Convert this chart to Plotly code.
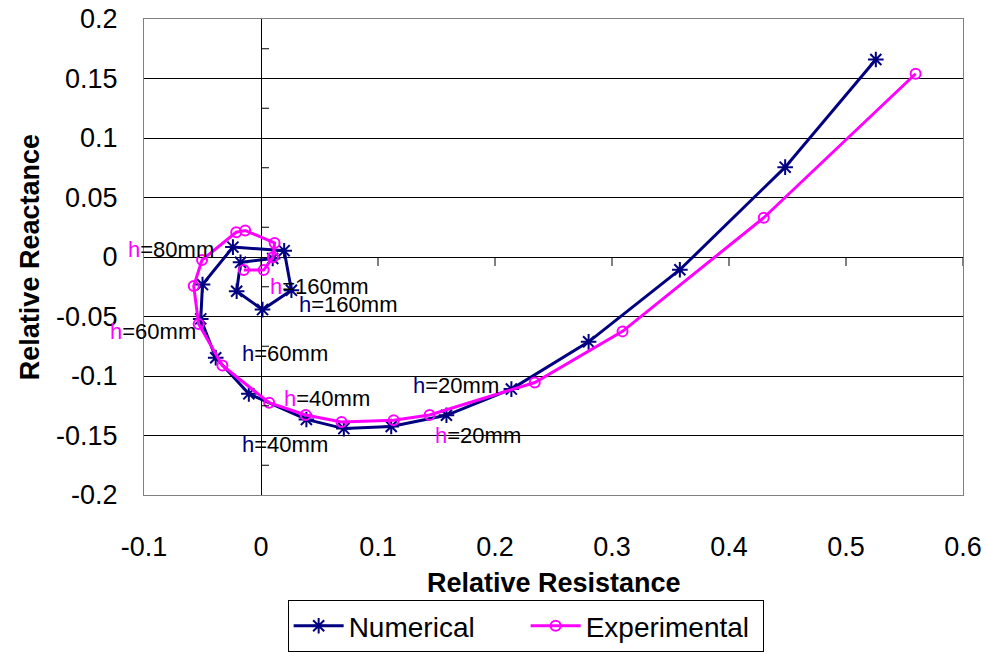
import plotly.graph_objects as go

# Impedance locus: relative resistance (R) vs relative reactance (X)
numerical_r = [0.5255, 0.448, 0.358, 0.280, 0.214, 0.1585, 0.1113, 0.0708, 0.0388, -0.0104,
               -0.0387, -0.0515, -0.0500, -0.0240, 0.0198, 0.0260, 0.0013, -0.0208, -0.0175, 0.0100]
numerical_x = [0.166, 0.0755, -0.0107, -0.0713, -0.111, -0.133, -0.1424, -0.1442, -0.1365, -0.1150,
               -0.0847, -0.0520, -0.0232, 0.0083, 0.0053, -0.0280, -0.0442, -0.0288, -0.0045, -0.0012]

experimental_r = [0.5595, 0.4297, 0.309, 0.234, 0.1441, 0.1134, 0.0688, 0.0382, 0.0070, -0.0330,
                  -0.0533, -0.0575, -0.0504, -0.0212, -0.0135, 0.0116, 0.0102, 0.0023, -0.0147]
experimental_x = [0.154, 0.033, -0.0625, -0.1055, -0.1327, -0.1371, -0.1386, -0.1328, -0.1225, -0.0912,
                  -0.0564, -0.0244, -0.0025, 0.0208, 0.0223, 0.0118, -0.0003, -0.0110, -0.0110]

x_ticks = [-0.1, 0.0, 0.1, 0.2, 0.3, 0.4, 0.5, 0.6]
x_tick_labels = ["-0.1", "0", "0.1", "0.2", "0.3", "0.4", "0.5", "0.6"]
y_ticks = [0.2, 0.15, 0.1, 0.05, 0.0, -0.05, -0.1, -0.15, -0.2]
y_tick_labels = ["0.2", "0.15", "0.1", "0.05", "0", "-0.05", "-0.1", "-0.15", "-0.2"]
# minor tick marks on the vertical axis through R = 0
y_axis_marks = [0.175, 0.125, 0.075, 0.025, -0.025, -0.075, -0.125, -0.175]

# height labels: (text, colour of the "h", R, X)
h_labels = [
    ("=80mm", "#FF00FF", -0.1146, 0.0061),
    ("=160mm", "#FF00FF", 0.0070, -0.0247),
    ("=160mm", "#000080", 0.0319, -0.0400),
    ("=60mm", "#FF00FF", -0.1300, -0.0624),
    ("=60mm", "#000080", -0.0172, -0.0814),
    ("=40mm", "#FF00FF", 0.0184, -0.1191),
    ("=40mm", "#000080", -0.0172, -0.1575),
    ("=20mm", "#000080", 0.1293, -0.1080),
    ("=20mm", "#FF00FF", 0.1476, -0.1500),
]

NAVY = "#000080"
MAGENTA = "#FF00FF"
FONT = "Arial, Liberation Sans, sans-serif"
X_MIN, X_MAX = -0.1, 0.6
PX_PER_R = 1167  # horizontal pixels per unit of R in the plot area

fig = go.Figure()
fig.add_trace(go.Scatter(
    x=numerical_r, y=numerical_x, name="Numerical", mode="lines+markers",
    line=dict(color=NAVY, width=3),
    marker=dict(symbol="asterisk-open", size=13, color=NAVY, line=dict(color=NAVY, width=2)),
    cliponaxis=False,
))
fig.add_trace(go.Scatter(
    x=experimental_r, y=experimental_x, name="Experimental", mode="lines+markers",
    line=dict(color=MAGENTA, width=3),
    marker=dict(symbol="circle-open", size=10, color=MAGENTA, line=dict(color=MAGENTA, width=2)),
    cliponaxis=False,
))

shapes = []
# tick marks hanging below the horizontal axis (X = 0)
for v in x_ticks[1:]:
    shapes.append(dict(type="line", xref="x", yref="y", ysizemode="pixel", yanchor=0,
                       x0=v, x1=v, y0=0, y1=-9, line=dict(color="black", width=1)))
# tick marks to the right of the vertical axis (R = 0)
for v in y_axis_marks:
    shapes.append(dict(type="line", xref="x", yref="y", xsizemode="pixel", xanchor=0,
                       x0=0, x1=8, y0=v, y1=v, line=dict(color="black", width=1)))

annotations = []
for text, col, ax, ay in h_labels:
    # labels left of the plotting range are pinned to its edge and shifted in pixels
    shift = 0
    if ax < X_MIN:
        shift = (ax - X_MIN) * PX_PER_R
        ax = X_MIN
    annotations.append(dict(
        x=ax, y=ay, xref="x", yref="y", xanchor="left", yanchor="middle", xshift=shift,
        text=f'<span style="color:{col}">h</span>{text}', showarrow=False,
        font=dict(family=FONT, size=22, color="black"), borderpad=0))
annotations.append(dict(
    x=0.5, y=-0.185, xref="paper", yref="paper", xanchor="center", yanchor="middle",
    text="<b>Relative Resistance</b>", showarrow=False,
    font=dict(family=FONT, size=27, color="black")))
annotations.append(dict(
    x=-0.139, y=0.5, xref="paper", yref="paper", xanchor="center", yanchor="middle",
    text="<b>Relative Reactance</b>", showarrow=False, textangle=-90,
    font=dict(family=FONT, size=27, color="black")))

fig.update_layout(
    width=985, height=652, autosize=False,
    margin=dict(l=144, r=22, t=19, b=157, autoexpand=False),
    paper_bgcolor="white", plot_bgcolor="white",
    font=dict(family=FONT, size=27, color="black"),
    shapes=shapes, annotations=annotations,
    showlegend=True,
    legend=dict(orientation="h", x=0.466, xanchor="center", yref="container", y=0.0,
                yanchor="bottom", bordercolor="black", borderwidth=1,
                font=dict(family=FONT, size=28, color="black"), itemwidth=50,
                entrywidth=172, bgcolor="white"),
    xaxis=dict(range=[X_MIN, X_MAX], tickvals=x_ticks, ticktext=x_tick_labels,
               showgrid=False, zeroline=True, zerolinecolor="black", zerolinewidth=1,
               showline=True, linecolor="#808080", linewidth=1, mirror=True,
               ticks="", ticklabelstandoff=28, tickfont=dict(size=27), automargin=False),
    yaxis=dict(range=[-0.2, 0.2], tickvals=y_ticks, ticktext=y_tick_labels,
               showgrid=True, gridcolor="black", gridwidth=1,
               zeroline=True, zerolinecolor="black", zerolinewidth=1,
               showline=True, linecolor="#808080", linewidth=1, mirror=True,
               ticks="", ticklabelstandoff=20, tickfont=dict(size=27), automargin=False),
)

fig.write_html("out.html")
